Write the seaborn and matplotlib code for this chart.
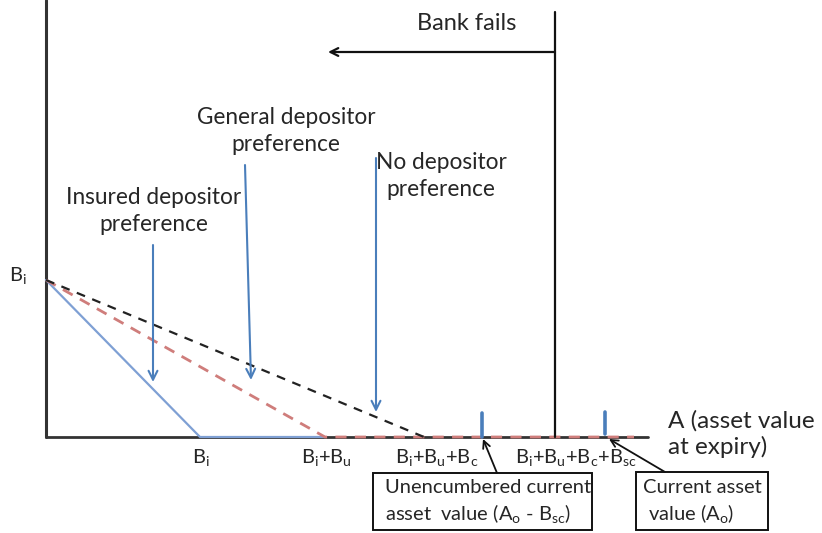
import matplotlib
matplotlib.use("Agg")
import matplotlib.pyplot as plt
import seaborn as sns
import pandas as pd
from matplotlib.patches import Rectangle

# ---------------- data (diagram units: x = asset value A at expiry, y = payoff) ----------------
BI_LEVEL = 157                      # insured deposits B_i (payoff when A = 0)
AXIS_TOP = 437
AXIS_END = 602                      # end of the A axis
BANK_FAIL_A = 509                   # boundary right of which the bank does not fail
BANK_FAIL_TOP = 425
BANK_ARROW_TIP = 282
BANK_ARROW_Y = 385
MARKER_A = [436, 559]               # A0 - B_sc  and  A0
MARKER_BOTTOM = [0, 3]
MARKER_TOP = [24, 25]

insured_x = [0, 154, 279]           # insured depositor preference
insured_y = [BI_LEVEL, 0, 0]
general_x = [0, 279, 588]           # general depositor preference
general_y = [BI_LEVEL, 0, 0]
nopref_x = [0, 378]                 # no depositor preference
nopref_y = [BI_LEVEL, 0]

x_labels = [r"B$_\mathrm{i}$",
            r"B$_\mathrm{i}$+B$_\mathrm{u}$",
            r"B$_\mathrm{i}$+B$_\mathrm{u}$+B$_\mathrm{c}$",
            r"B$_\mathrm{i}$+B$_\mathrm{u}$+B$_\mathrm{c}$+B$_\mathrm{sc}$"]
x_label_pos = [155, 280, 391, 530]

pref_labels = ["Insured depositor\npreference",
               "General depositor\npreference",
               "No depositor\npreference"]
pref_label_pos = [(108, 226), (240, 306), (395, 261)]
pref_arrow_start = [(107, 192), (199, 272), (330, 279)]
pref_arrow_end = [(107, 55), (205, 57), (330, 25)]

box_labels = ["Unencumbered current\nasset  value (A$_\mathrm{o}$ - B$_\mathrm{sc}$)",
              "Current asset\n value (A$_\mathrm{o}$)"]
box_rects = [(327, -93, 219, 57), (590, -93, 132, 58)]
box_text_pos = [(339, -65), (597, -65)]
box_arrow_start = [(451, -36), (619, -35)]
box_arrow_end = [(437, -2), (563, -2)]

# ---------------- style ----------------
sns.set_theme(style="white")
plt.rcParams["font.family"] = ["Lato", "DejaVu Sans"]
plt.rcParams["mathtext.fontset"] = "custom"
plt.rcParams["mathtext.rm"] = "Lato"
plt.rcParams["mathtext.it"] = "Lato:italic"
TXT = "#262626"
FS = 16.3
BLUE = "#4a7ebb"

fig = plt.figure(figsize=(8.22, 5.33), dpi=100)
ax = fig.add_axes([0, 0, 1, 1])
ax.set_xlim(-46, 776)
ax.set_ylim(-96, 437)
ax.axis("off")


def seg(x, y, **kw):
    sns.lineplot(x=x, y=y, ax=ax, sort=False, estimator=None, errorbar=None, **kw)


# axes of the diagram
seg([0, 0], [0, AXIS_TOP], color="#333333", lw=2.2)
seg([0, AXIS_END], [0, 0], color="#333333", lw=2.0)

# payoff lines
df_ins = pd.DataFrame({"A": insured_x, "payoff": insured_y})
df_gen = pd.DataFrame({"A": general_x, "payoff": general_y})
df_no = pd.DataFrame({"A": nopref_x, "payoff": nopref_y})
sns.lineplot(data=df_ins, x="A", y="payoff", ax=ax, sort=False, estimator=None,
             color="#7fa0d4", lw=1.6)
sns.lineplot(data=df_gen, x="A", y="payoff", ax=ax, sort=False, estimator=None,
             color="#cf7d7b", lw=2.0, linestyle=(0, (4, 3)))
sns.lineplot(data=df_no, x="A", y="payoff", ax=ax, sort=False, estimator=None,
             color="#222222", lw=1.6, linestyle=(0, (4, 3.5)))

# bank fails boundary
seg([BANK_FAIL_A, BANK_FAIL_A], [0, BANK_FAIL_TOP], color="#111111", lw=1.6)
ax.annotate("", xy=(BANK_ARROW_TIP, BANK_ARROW_Y), xytext=(BANK_FAIL_A, BANK_ARROW_Y),
            arrowprops=dict(arrowstyle="->", color="#111111", lw=1.6, mutation_scale=14,
                            shrinkA=0, shrinkB=0))
ax.text(421, 414, "Bank fails", ha="center", va="center", fontsize=FS + 0.7, color=TXT)

# blue value markers
for xa, lo, top in zip(MARKER_A, MARKER_BOTTOM, MARKER_TOP):
    seg([xa, xa], [lo, top], color=BLUE, lw=2.6)

# preference labels with arrows
for lab, pos, s, e in zip(pref_labels, pref_label_pos, pref_arrow_start, pref_arrow_end):
    ax.text(pos[0], pos[1], lab, ha="center", va="center", fontsize=FS, color=TXT,
            linespacing=1.3)
    ax.annotate("", xy=e, xytext=s,
                arrowprops=dict(arrowstyle="->", color=BLUE, lw=1.5, mutation_scale=16,
                                shrinkA=0, shrinkB=0))

# axis labels
ax.text(-28, 161, r"B$_\mathrm{i}$", ha="center", va="center", fontsize=14.5, color=TXT)
for lab, xp in zip(x_labels, x_label_pos):
    ax.text(xp, -21, lab, ha="center", va="center", fontsize=14.5, color=TXT)
ax.text(622, 3, "A (asset value\nat expiry)", ha="left", va="center", fontsize=17.5,
        color=TXT, linespacing=1.25)

# boxes
for (x0, y0, w, h), tp, lab, s, e in zip(box_rects, box_text_pos, box_labels,
                                          box_arrow_start, box_arrow_end):
    ax.add_patch(Rectangle((x0, y0), w, h, fill=False, ec="#111111", lw=1.4))
    ax.text(tp[0], tp[1], lab, ha="left", va="center", fontsize=14.5, color=TXT,
            linespacing=1.35)
    ax.annotate("", xy=e, xytext=s,
                arrowprops=dict(arrowstyle="->", color="#111111", lw=1.3, mutation_scale=13,
                                shrinkA=0, shrinkB=0))

fig.savefig("out.png", dpi=100)
